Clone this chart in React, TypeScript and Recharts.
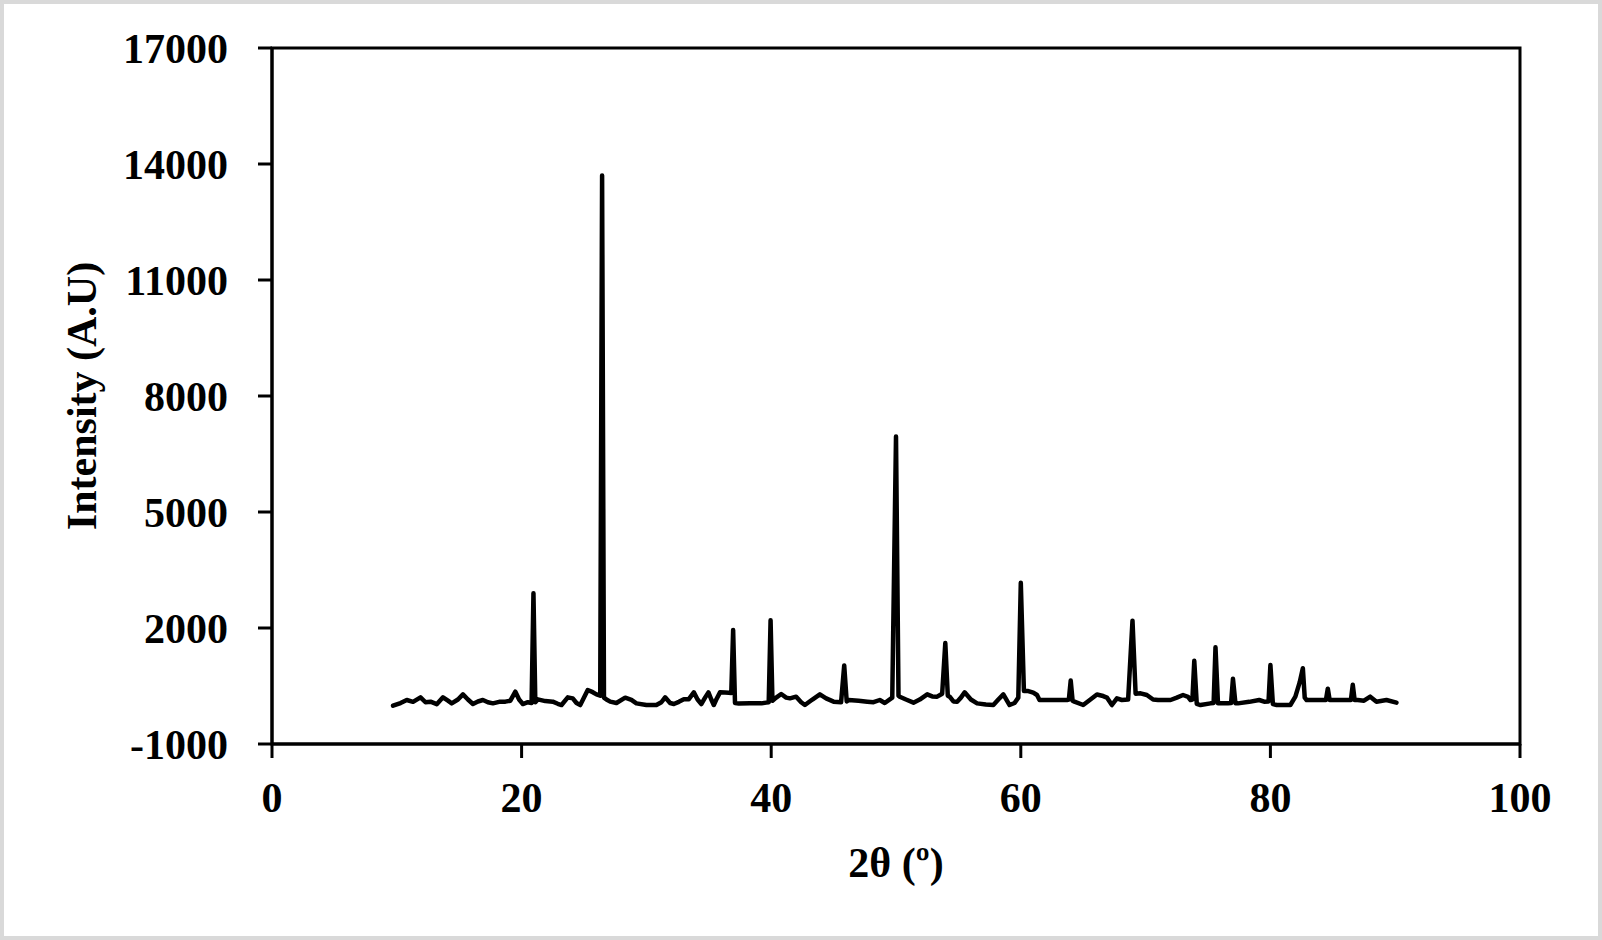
import { Label, Line, LineChart, ReferenceArea, XAxis, YAxis } from "recharts";

// XRD pattern
const twoTheta = [
  9.7, 10.3, 10.8, 11.3, 11.9, 12.3, 12.7, 13.2, 13.7, 14.1, 14.4, 14.9, 15.3, 15.7, 16.1, 16.5,
  16.9, 17.3, 17.7, 18.2, 18.7, 19.1, 19.5, 19.8, 20.1, 20.5, 20.8, 20.95, 21.1, 21.3, 21.9, 22.5,
  22.9, 23.2, 23.7, 24.1, 24.4, 24.7, 25.0, 25.3, 25.7, 26.0, 26.3, 26.45, 26.6, 26.8, 27.1, 27.6,
  28.3, 28.8, 29.2, 30.0, 30.8, 31.2, 31.5, 31.9, 32.2, 32.6, 33.0, 33.4, 33.8, 34.1, 34.4, 34.7,
  34.97, 35.2, 35.4, 35.6, 35.9, 36.3, 36.6, 36.8, 36.95, 37.1, 37.4, 38.3, 39.2, 39.6, 39.8, 39.95,
  40.1, 40.4, 40.8, 41.2, 41.5, 42.0, 42.4, 42.7, 43.3, 43.9, 44.4, 45.0, 45.6, 45.85, 46.05, 46.2,
  47.0, 47.7, 48.2, 48.7, 49.1, 49.7, 50.0, 50.2, 50.3, 50.8, 51.4, 51.9, 52.5, 52.9, 53.3, 53.7,
  53.95, 54.15, 54.3, 54.6, 54.9, 55.2, 55.5, 56.0, 56.5, 57.2, 57.8, 58.2, 58.6, 59.1, 59.5, 59.8,
  60.0, 60.25, 60.6, 61.0, 61.3, 61.5, 62.5, 63.7, 63.85, 64.0, 64.15, 64.3, 65.0, 65.5, 66.1, 66.6,
  66.9, 67.3, 67.7, 68.1, 68.6, 68.95, 69.2, 69.6, 70.1, 70.6, 71.0, 72.0, 72.5, 73.0, 73.4, 73.6,
  73.75, 73.9, 74.1, 74.4, 75.2, 75.45, 75.6, 75.8, 76.0, 76.6, 76.85, 77.0, 77.2, 77.4, 78.3, 79.1,
  79.5, 79.85, 80.0, 80.2, 80.5, 81.6, 82.0, 82.35, 82.6, 82.75, 82.9, 83.7, 84.1, 84.45, 84.6, 84.75,
  84.9, 86.3, 86.45, 86.6, 86.75, 87.0, 87.5, 88.0, 88.5, 89.3, 90.1,
];
const intensity = [
  -10, 60, 138, 90, 207, 80, 95, 30, 207, 120, 51, 150, 284, 150, 34, 100,
  138, 80, 51, 90, 95, 120, 353, 150, 34, 80, 60, 2900, 80, 155, 110, 95,
  40, 8, 207, 180, 60, 8, 200, 396, 340, 284, 250, 13700, 200, 150, 95, 60,
  198, 140, 51, 8, 8, 80, 207, 60, 34, 90, 155, 160, 336, 150, 34, 200,
  336, 150, 8, 150, 336, 330, 327, 320, 1950, 60, 50, 51, 51, 70, 80, 2200,
  120, 200, 293, 200, 180, 224, 80, 8, 150, 284, 180, 95, 80, 1030, 100, 138,
  120, 95, 80, 138, 60, 200, 6950, 250, 224, 150, 69, 150, 284, 230, 224, 300,
  1610, 250, 224, 100, 95, 200, 336, 150, 51, 20, 8, 150, 284, 8, 60, 200,
  3170, 370, 370, 330, 267, 138, 138, 138, 150, 640, 120, 95, 8, 130, 280, 240,
  200, 8, 180, 138, 150, 2190, 300, 310, 267, 150, 138, 138, 200, 267, 220, 138,
  150, 1150, 40, 8, 51, 60, 1500, 51, 51, 51, 60, 690, 51, 51, 90, 138,
  95, 100, 1043, 30, 8, 8, 224, 600, 960, 200, 138, 138, 138, 140, 430, 138,
  138, 138, 140, 530, 138, 138, 120, 224, 95, 138, 69,
];

const xTicks = [0, 20, 40, 60, 80, 100];
const yTicks = [-1000, 2000, 5000, 8000, 11000, 14000, 17000];

const data = twoTheta.map((x, i) => ({ x, y: intensity[i] }));

const font = "'Times New Roman', 'Liberation Serif', serif";
const tickStyle = { fill: "#000", fontSize: 42, fontFamily: font, fontWeight: 700 };
const axisStroke = { stroke: "#000", strokeWidth: 3 };

const YTitle = (props: any) => {
  const vb = props.viewBox;
  const cx = vb.x + 10;
  const cy = vb.y + vb.height / 2;
  return (
    <text
      x={cx}
      y={cy}
      transform={`rotate(-90 ${cx} ${cy})`}
      textAnchor="middle"
      dominantBaseline="central"
      fill="#000"
      fontSize={42}
      fontFamily={font}
      fontWeight={700}
    >
      Intensity (A.U)
    </text>
  );
};

const XTitle = (props: any) => {
  const vb = props.viewBox;
  return (
    <text
      x={vb.x + vb.width / 2}
      y={vb.y + 133}
      textAnchor="middle"
      fill="#000"
      fontSize={42}
      fontFamily={font}
      fontWeight={700}
    >
      2θ (º)
    </text>
  );
};

export default function App() {
  return (
    <div
      style={{
        position: "absolute",
        left: 0,
        top: 0,
        width: 1602,
        height: 940,
        background: "#fff",
        boxShadow: "inset 0 0 0 4px #d9d9d9",
      }}
    >
      <LineChart width={1602} height={940} data={data} margin={{ top: 48, right: 82, left: 72, bottom: 76 }}>
        <XAxis
          dataKey="x"
          type="number"
          domain={[0, 100]}
          ticks={xTicks}
          height={120}
          tick={tickStyle}
          tickSize={14}
          tickMargin={24}
          axisLine={axisStroke}
          tickLine={axisStroke}
        >
          <Label content={<XTitle />} />
        </XAxis>
        <YAxis
          type="number"
          domain={[-1000, 17000]}
          ticks={yTicks}
          width={200}
          tick={tickStyle}
          tickSize={14}
          tickMargin={30}
          axisLine={axisStroke}
          tickLine={axisStroke}
          interval={0}
        >
          <Label content={<YTitle />} />
        </YAxis>
        {/* plot frame */}
        <ReferenceArea
          x1={0}
          x2={100}
          y1={-1000}
          y2={17000}
          fill="none"
          stroke="#000"
          strokeWidth={3}
          ifOverflow="visible"
        />
        <Line
          type="linear"
          dataKey="y"
          stroke="#000"
          strokeWidth={4.5}
          strokeLinejoin="round"
          strokeLinecap="round"
          dot={false}
          activeDot={false}
          isAnimationActive={false}
        />
      </LineChart>
    </div>
  );
}
